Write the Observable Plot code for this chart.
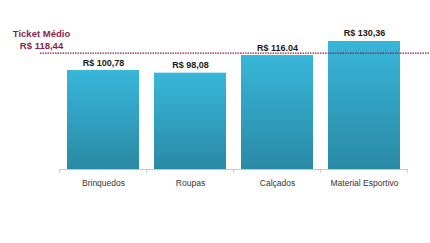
<!DOCTYPE html>
<html><head><meta charset="utf-8">
<script src="https://cdn.jsdelivr.net/npm/d3@7"></script>
<script src="https://cdn.jsdelivr.net/npm/@observablehq/plot@0.6"></script>
<style>
html,body{margin:0;padding:0;background:#fff;}
#chart{width:430px;height:243px;}
</style></head>
<body><div id="chart"></div>
<script>
const categories = ["Brinquedos", "Roupas", "Calçados", "Material Esportivo"];
const values = [100.78, 98.08, 116.04, 130.36];
const valueLabels = ["R$ 100,78", "R$ 98,08", "R$ 116.04", "R$ 130,36"];
const averageValue = 118.44;
const averageLabel = "Ticket Médio\nR$ 118,44";

const data = categories.map((c, i) => ({cat: c, value: values[i], label: valueLabels[i]}));
const font = "'Liberation Sans Narrow', 'Arial Narrow', 'Liberation Sans', Arial, sans-serif";

const plot = Plot.plot({
  width: 430, height: 243,
  marginLeft: 60, marginRight: 22, marginTop: 31.5, marginBottom: 74,
  style: {fontFamily: font, background: "#fff"},
  x: {domain: categories, paddingInner: 0.17, paddingOuter: 0.085, axis: null},
  y: {domain: [0, 140], axis: null},
  marks: [
    Plot.barY(data, {x: "cat", y: "value", fill: "url(#barGrad)"}),
    Plot.ruleY([0], {stroke: "#c8c8c8", strokeWidth: 1}),
    Plot.ruleY([averageValue], {stroke: "#8b1f4b", strokeWidth: 1.3, strokeDasharray: "1.5,1", insetLeft: -20, insetRight: -22}),
    Plot.text([averageLabel], {frameAnchor: "left", y: () => averageValue, dx: -19, dy: -4, lineAnchor: "bottom", textAnchor: "middle", fill: "#8b1f4b", fontWeight: "bold", fontSize: 9.5, lineHeight: 1.25, letterSpacing: "-0.3px"}),
    Plot.text(data, {x: "cat", y: "value", text: "label", dy: -5, lineAnchor: "bottom", fill: "#1a1a1a", fontWeight: "bold", fontSize: 9, letterSpacing: "-0.3px"}),
    Plot.text(data, {x: "cat", text: "cat", frameAnchor: "bottom", dy: 16, fill: "#333", fontSize: 8.5, letterSpacing: "-0.3px"}),
    function(index, scales, values, dims) {
      const g = d3.create("svg:g");
      const xs = scales.scales.x;
      const bw = xs.bandwidth;
      const step = bw / (1 - 0.17);
      const y0 = dims.height - dims.marginBottom;
      const edges = categories.map(c => scales.x(c) - step * 0.085);
      edges.push(scales.x(categories[categories.length - 1]) + bw + step * 0.085);
      edges.forEach(e => g.append("line").attr("x1", e).attr("x2", e).attr("y1", y0).attr("y2", y0 + 4).attr("stroke", "#c8c8c8"));
      return g.node();
    }
  ]
});

const defs = d3.select(plot).insert("defs", ":first-child");
const grad = defs.append("linearGradient").attr("id", "barGrad").attr("x1", 0).attr("x2", 0).attr("y1", 0).attr("y2", 1);
grad.append("stop").attr("offset", "0%").attr("stop-color", "#38b6da");
grad.append("stop").attr("offset", "100%").attr("stop-color", "#2a8aa4");

document.getElementById("chart").appendChild(plot);
</script></body></html>
